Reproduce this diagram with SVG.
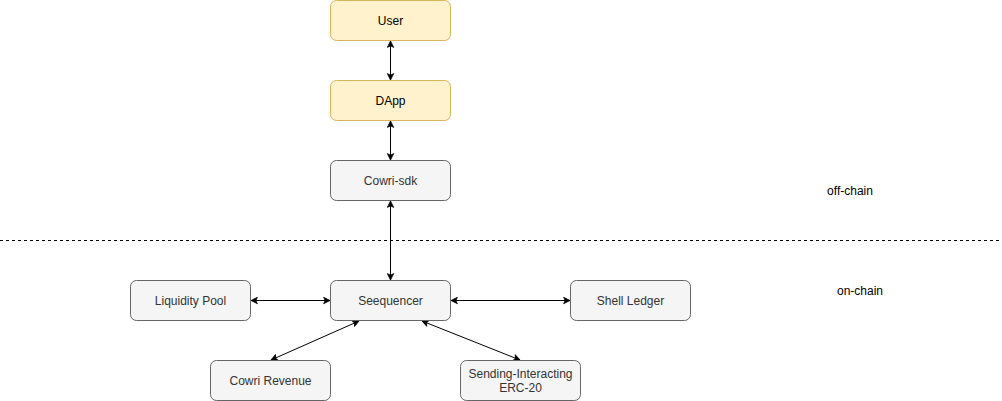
<svg xmlns="http://www.w3.org/2000/svg" width="1002" height="401" viewBox="0 0 1002 401">
<style>
.y{fill:#fff2cc;stroke:#d6b656;stroke-width:1}
.g{fill:#f5f5f5;stroke:#666666;stroke-width:1}
.t{font-family:"Liberation Sans",Arial,sans-serif;font-size:12px;text-anchor:middle;fill:#000}
.tg{font-family:"Liberation Sans",Arial,sans-serif;font-size:12px;text-anchor:middle;fill:#333333}
.e{stroke:#000;stroke-width:1;fill:none;marker-start:url(#a);marker-end:url(#a)}
</style>
<defs>
<marker id="a" viewBox="0 0 10 10" refX="9" refY="5" markerWidth="8" markerHeight="8" markerUnits="userSpaceOnUse" orient="auto-start-reverse">
<path d="M1,1 L9,5 L1,9 L3,5 Z" fill="#000" stroke="#000" stroke-width="1"/>
</marker>
</defs>
<line x1="0" y1="240.5" x2="1000" y2="240.5" stroke="#000" stroke-width="1" stroke-dasharray="3,3"/>
<g id="connectors">
<line class="e" x1="390.5" y1="41" x2="390.5" y2="80"/>
<line class="e" x1="390.5" y1="121" x2="390.5" y2="160"/>
<line class="e" x1="390.5" y1="201" x2="390.5" y2="280"/>
<line class="e" x1="251" y1="300.5" x2="330" y2="300.5"/>
<line class="e" x1="451" y1="300.5" x2="570" y2="300.5"/>
<line class="e" x1="359" y1="321" x2="271" y2="360"/>
<line class="e" x1="422" y1="321" x2="520" y2="360"/>
</g>
<g id="user"><rect class="y" x="330.5" y="0.5" width="120" height="40" rx="6"/><text class="t" x="390.5" y="25">User</text></g>
<g id="dapp"><rect class="y" x="330.5" y="80.5" width="120" height="40" rx="6"/><text class="t" x="390.5" y="105">DApp</text></g>
<g id="sdk"><rect class="g" x="330.5" y="160.5" width="120" height="40" rx="6"/><text class="tg" x="390.5" y="185">Cowri-sdk</text></g>
<g id="seq"><rect class="g" x="330.5" y="280.5" width="120" height="40" rx="6"/><text class="tg" x="390.5" y="305">Seequencer</text></g>
<g id="pool"><rect class="g" x="130.5" y="280.5" width="120" height="40" rx="6"/><text class="tg" x="190.5" y="305">Liquidity Pool</text></g>
<g id="ledger"><rect class="g" x="570.5" y="280.5" width="120" height="40" rx="6"/><text class="tg" x="630.5" y="305">Shell Ledger</text></g>
<g id="revenue"><rect class="g" x="210.5" y="360.5" width="120" height="40" rx="6"/><text class="tg" x="270.5" y="385">Cowri Revenue</text></g>
<g id="erc20"><rect class="g" x="460.5" y="360.5" width="120" height="40" rx="6"/><text class="tg" x="520.5" y="378">Sending-Interacting</text><text class="tg" x="520.5" y="392">ERC-20</text></g>
<g id="offchain"><text class="t" x="850" y="195">off-chain</text></g>
<g id="onchain"><text class="t" x="860" y="295">on-chain</text></g>
</svg>
